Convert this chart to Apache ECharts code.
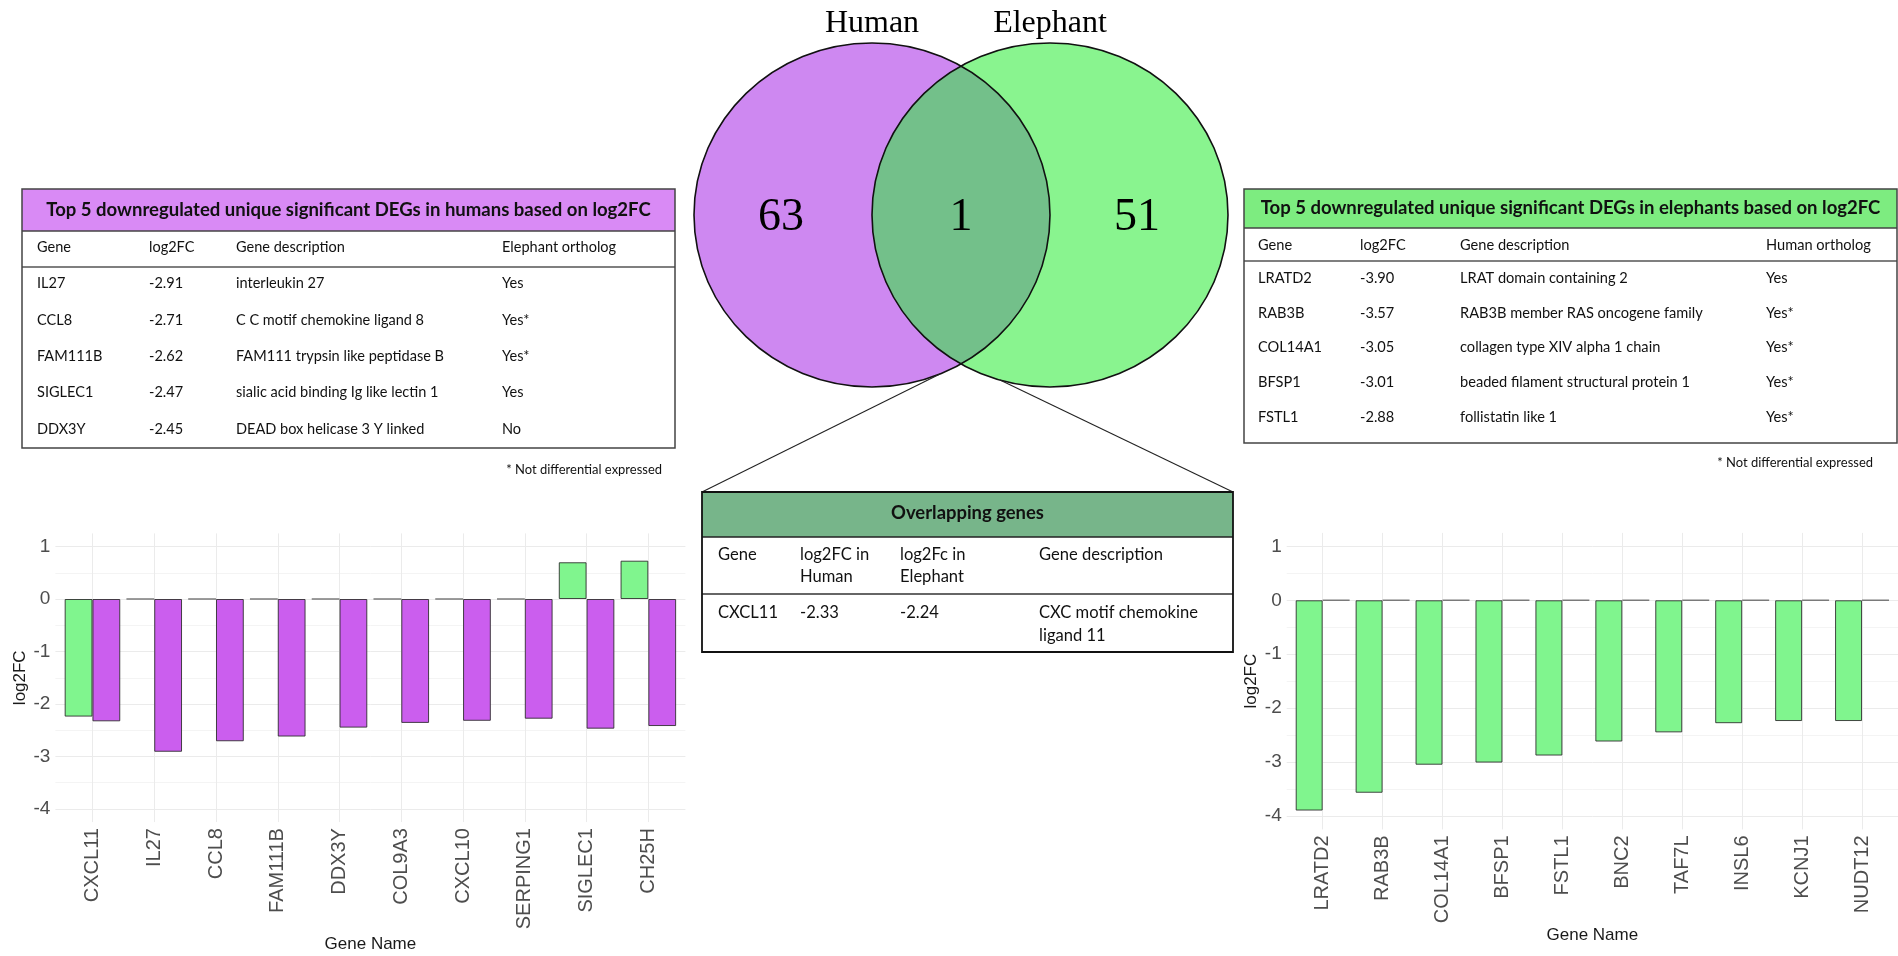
<!DOCTYPE html>
<html>
<head>
<meta charset="utf-8">
<title>DEGs in human and elephant</title>
<script src="https://cdn.jsdelivr.net/npm/echarts@6/dist/echarts.min.js"></script>
<style>
  html, body { margin: 0; padding: 0; background: #ffffff; }
  #main { width: 1898px; height: 956px; }
</style>
</head>
<body>
<div id="main"></div>
<script>
// ---------- data ----------
const humanGenes = ['CXCL11', 'IL27', 'CCL8', 'FAM111B', 'DDX3Y', 'COL9A3', 'CXCL10', 'SERPING1', 'SIGLEC1', 'CH25H'];
const humanGenesElephantFC = [-2.24, 0, 0, 0, 0, 0, 0, 0, 0.70, 0.73];
const humanGenesHumanFC = [-2.33, -2.91, -2.71, -2.62, -2.45, -2.36, -2.32, -2.28, -2.47, -2.42];

const elephantGenes = ['LRATD2', 'RAB3B', 'COL14A1', 'BFSP1', 'FSTL1', 'BNC2', 'TAF7L', 'INSL6', 'KCNJ1', 'NUDT12'];
const elephantGenesElephantFC = [-3.90, -3.57, -3.05, -3.01, -2.88, -2.62, -2.45, -2.28, -2.24, -2.24];
const elephantGenesHumanFC = [0, 0, 0, 0, 0, 0, 0, 0, 0, 0];

const vennSetNames = ['Human', 'Elephant'];
const vennCounts = [63, 1, 51]; // human only, shared, elephant only

const humanTableTitle = 'Top 5 downregulated unique significant DEGs in humans based on log2FC';
const humanTableHeader = ['Gene', 'log2FC', 'Gene description', 'Elephant ortholog'];
const humanTopGenes = ['IL27', 'CCL8', 'FAM111B', 'SIGLEC1', 'DDX3Y'];
const humanTopDesc = ['interleukin 27', 'C C motif chemokine ligand 8', 'FAM111 trypsin like peptidase B',
  'sialic acid binding Ig like lectin 1', 'DEAD box helicase 3 Y linked'];
const humanTopOrtholog = ['Yes', 'Yes*', 'Yes*', 'Yes', 'No'];

const elephantTableTitle = 'Top 5 downregulated unique significant DEGs in elephants based on log2FC';
const elephantTableHeader = ['Gene', 'log2FC', 'Gene description', 'Human ortholog'];
const elephantTopGenes = ['LRATD2', 'RAB3B', 'COL14A1', 'BFSP1', 'FSTL1'];
const elephantTopDesc = ['LRAT domain containing 2', 'RAB3B member RAS oncogene family', 'collagen type XIV alpha 1 chain',
  'beaded filament structural protein 1', 'follistatin like 1'];
const elephantTopOrtholog = ['Yes', 'Yes*', 'Yes*', 'Yes*', 'Yes*'];

const footnoteText = '* Not differential expressed';

const sharedTableTitle = 'Overlapping genes';
const sharedTableHeader = [['Gene'], ['log2FC in', 'Human'], ['log2Fc in', 'Elephant'], ['Gene description']];
const sharedGene = 'CXCL11';
const sharedDesc = ['CXC motif chemokine', 'ligand 11'];

// ---------- styles ----------
const PURPLE_BAR = '#CB5EEE';
const GREEN_BAR = '#80F58E';
const BAR_BORDER = 'rgba(40,40,40,0.85)';
const ZERO_BORDER = 'rgba(110,110,110,0.9)';
const VENN_PURPLE = '#CE88F1';
const VENN_GREEN = '#89F48F';
const VENN_SHARED = '#73C08A';
const HEAD_PURPLE = '#D98AF5';
const HEAD_GREEN = '#7DEC80';
const HEAD_SHARED = '#77B58A';
const TXT = '#111111';
const CHART_FONT = 'Liberation Sans';
const TABLE_FONT = 'Lato';
const SERIF = 'Liberation Serif';
const CLEAR = 'rgba(0,0,0,0)';

// font size so that a string spans a given width
const measureCtx = document.createElement('canvas').getContext('2d');
function fitSize(text, weight, family, width) {
  measureCtx.font = weight + ' 100px "' + family + '"';
  return 100 * width / measureCtx.measureText(text).width;
}
function fcOf(genes, values, gene) {
  return values[genes.indexOf(gene)].toFixed(2);
}

const graphics = [];
let zOrder = 10;
function add(el) { el.z = zOrder++; graphics.push(el); }
function text(x, y, str, size, opts) {
  opts = opts || {};
  add({
    type: 'text', x: x, y: y, silent: true,
    style: {
      text: str, fill: opts.fill || TXT, fontSize: size,
      fontFamily: opts.family || TABLE_FONT, fontWeight: opts.weight || 'normal',
      align: opts.align || 'left', verticalAlign: 'middle'
    }
  });
}
function hline(x1, x2, y, w, c) {
  add({ type: 'line', silent: true, shape: { x1: x1, y1: y, x2: x2, y2: y }, style: { stroke: c, lineWidth: w } });
}

// ---------- Venn diagram ----------
const V = { cxL: 872, cxR: 1050, cy: 215, rx: 178, ry: 172 };
add({ type: 'ellipse', silent: true, shape: { cx: V.cxL, cy: V.cy, rx: V.rx, ry: V.ry }, style: { fill: VENN_PURPLE } });
add({ type: 'ellipse', silent: true, shape: { cx: V.cxR, cy: V.cy, rx: V.rx, ry: V.ry }, style: { fill: VENN_GREEN } });
(function () {
  const xi = (V.cxL + V.cxR) / 2;
  const a = Math.acos((xi - V.cxL) / V.rx);
  const pts = [];
  const n = 80;
  for (let i = 0; i <= n; i++) {
    const t = -a + 2 * a * i / n;
    pts.push([V.cxL + V.rx * Math.cos(t), V.cy + V.ry * Math.sin(t)]);
  }
  for (let i = 0; i <= n; i++) {
    const t = Math.PI - a + 2 * a * i / n;
    pts.push([V.cxR + V.rx * Math.cos(t), V.cy + V.ry * Math.sin(t)]);
  }
  add({ type: 'polygon', silent: true, shape: { points: pts }, style: { fill: VENN_SHARED } });
})();
add({ type: 'ellipse', silent: true, shape: { cx: V.cxL, cy: V.cy, rx: V.rx, ry: V.ry }, style: { fill: null, stroke: '#111', lineWidth: 1.6 } });
add({ type: 'ellipse', silent: true, shape: { cx: V.cxR, cy: V.cy, rx: V.rx, ry: V.ry }, style: { fill: null, stroke: '#111', lineWidth: 1.6 } });
text(V.cxL, 24, vennSetNames[0], 32, { family: SERIF, align: 'center', fill: '#000' });
text(V.cxR, 24, vennSetNames[1], 32, { family: SERIF, align: 'center', fill: '#000' });
text(781, 218, String(vennCounts[0]), 46, { family: SERIF, align: 'center', fill: '#000' });
text((V.cxL + V.cxR) / 2, 218, String(vennCounts[1]), 46, { family: SERIF, align: 'center', fill: '#000' });
text(1137, 218, String(vennCounts[2]), 46, { family: SERIF, align: 'center', fill: '#000' });

// ---------- overlap table + connectors ----------
const S = { x: 702, y: 492, w: 531, h: 160, head: 45, row: 102 };
function ellipseBottomY(cx, x) { return V.cy + V.ry * Math.sqrt(1 - Math.pow((x - cx) / V.rx, 2)); }
add({ type: 'line', silent: true, shape: { x1: 940, y1: ellipseBottomY(V.cxL, 940), x2: S.x, y2: S.y }, style: { stroke: '#222', lineWidth: 1.1 } });
add({ type: 'line', silent: true, shape: { x1: 1000, y1: ellipseBottomY(V.cxR, 1000), x2: S.x + S.w, y2: S.y }, style: { stroke: '#222', lineWidth: 1.1 } });
add({ type: 'rect', silent: true, shape: { x: S.x, y: S.y, width: S.w, height: S.head }, style: { fill: HEAD_SHARED } });
hline(S.x, S.x + S.w, S.y + S.head, 1.5, '#222');
hline(S.x, S.x + S.w, S.y + S.row, 1.5, '#333');
add({ type: 'rect', silent: true, shape: { x: S.x, y: S.y, width: S.w, height: S.h }, style: { fill: null, stroke: '#111', lineWidth: 1.8 } });
(function () {
  const titleSize = fitSize(sharedTableTitle, 'bold', TABLE_FONT, 153);
  text(S.x + S.w / 2, S.y + 21, sharedTableTitle, titleSize, { weight: 'bold', align: 'center' });
  const bodySize = fitSize('Gene description', 'normal', TABLE_FONT, 124);
  const colX = [16, 98, 198, 337];
  sharedTableHeader.forEach(function (lines, c) {
    lines.forEach(function (ln, k) { text(S.x + colX[c], S.y + 63 + 22 * k, ln, bodySize); });
  });
  const row = [sharedGene,
    fcOf(humanGenes, humanGenesHumanFC, sharedGene),
    fcOf(humanGenes, humanGenesElephantFC, sharedGene)];
  row.forEach(function (v, c) { text(S.x + colX[c], S.y + 121, v, bodySize); });
  sharedDesc.forEach(function (ln, k) { text(S.x + colX[3], S.y + 121 + 23 * k, ln, bodySize); });
})();

// ---------- side tables ----------
function sideTable(T) {
  add({ type: 'rect', silent: true, shape: { x: T.x, y: T.y, width: T.w, height: T.head }, style: { fill: T.headFill } });
  hline(T.x, T.x + T.w, T.y + T.head, 1.5, '#444');
  hline(T.x, T.x + T.w, T.y + T.colLine, 1.5, '#555');
  add({ type: 'rect', silent: true, shape: { x: T.x, y: T.y, width: T.w, height: T.h }, style: { fill: null, stroke: '#444', lineWidth: 1.5 } });
  const titleSize = fitSize(T.title, 'bold', TABLE_FONT, T.titleW);
  text(T.x + T.w / 2, T.y + T.head / 2, T.title, titleSize, { weight: 'bold', align: 'center' });
  const bodySize = fitSize('Gene description', 'normal', TABLE_FONT, T.refW);
  T.header.forEach(function (h, c) { text(T.x + T.colX[c], T.headerY, h, bodySize); });
  T.genes.forEach(function (g, r) {
    const y = T.rowY + T.rowStep * r;
    text(T.x + T.colX[0], y, g, bodySize);
    text(T.x + T.colX[1], y, fcOf(T.allGenes, T.allFC, g), bodySize);
    text(T.x + T.colX[2], y, T.desc[r], bodySize);
    text(T.x + T.colX[3], y, T.ortholog[r], bodySize);
  });
  const noteSize = fitSize(footnoteText, 'normal', TABLE_FONT, 156);
  text(T.noteX, T.noteY, footnoteText, noteSize, { align: 'right' });
}
sideTable({
  x: 22, y: 189, w: 653, h: 259, head: 42, colLine: 78, headFill: HEAD_PURPLE,
  title: humanTableTitle, titleW: 605, refW: 109,
  header: humanTableHeader, colX: [15, 127, 214, 480], headerY: 247,
  genes: humanTopGenes, desc: humanTopDesc, ortholog: humanTopOrtholog,
  allGenes: humanGenes, allFC: humanGenesHumanFC,
  rowY: 283.5, rowStep: 36.4, noteX: 662, noteY: 470
});
sideTable({
  x: 1244, y: 189, w: 653, h: 254, head: 39, colLine: 72, headFill: HEAD_GREEN,
  title: elephantTableTitle, titleW: 620, refW: 109.5,
  header: elephantTableHeader, colX: [14, 116, 216, 522], headerY: 245,
  genes: elephantTopGenes, desc: elephantTopDesc, ortholog: elephantTopOrtholog,
  allGenes: elephantGenes, allFC: elephantGenesElephantFC,
  rowY: 278.5, rowStep: 34.6, noteX: 1873, noteY: 463
});

// ---------- bar charts ----------
function geneLabel(names) {
  return function (v) {
    const r = Math.round(v);
    return (Math.abs(v - r) < 1e-6 && r >= 0 && r < names.length) ? names[r] : '';
  };
}
function intLabel(v) {
  const r = Math.round(v);
  return Math.abs(v - r) < 1e-6 ? String(r) : '';
}
function xAxisFor(idx, names, nameGap) {
  return {
    type: 'value', gridIndex: idx, min: -0.6, max: 9.6, interval: 0.2,
    axisLine: { show: false }, axisTick: { show: false },
    splitLine: {
      show: true, showMinLine: true, showMaxLine: true,
      lineStyle: { color: [CLEAR, CLEAR, CLEAR, '#EBEBEB', CLEAR], width: 1 }
    },
    axisLabel: {
      rotate: 90, margin: 6, fontSize: 20, color: '#4D4D4D', fontFamily: CHART_FONT,
      formatter: geneLabel(names), showMinLabel: true, showMaxLabel: true
    },
    name: 'Gene Name', nameLocation: 'middle', nameGap: nameGap,
    nameTextStyle: { fontSize: 17, color: '#1a1a1a', fontFamily: CHART_FONT }
  };
}
function yAxisFor(idx) {
  return {
    type: 'value', gridIndex: idx, min: -4.25, max: 1.25, interval: 0.25,
    axisLine: { show: false }, axisTick: { show: false },
    splitLine: {
      show: true, showMinLine: true, showMaxLine: true,
      lineStyle: { color: [CLEAR, '#EBEBEB', CLEAR, '#F4F4F4'], width: 1 }
    },
    axisLabel: { margin: 5, fontSize: 19, color: '#4D4D4D', fontFamily: CHART_FONT, formatter: intLabel },
    name: 'log2FC', nameLocation: 'middle', nameGap: 27, nameRotate: 90,
    nameTextStyle: { fontSize: 17, color: '#1a1a1a', fontFamily: CHART_FONT }
  };
}
function barSeries(idx, values, color) {
  return {
    type: 'bar', xAxisIndex: idx, yAxisIndex: idx,
    data: values.map(function (v, i) {
      // a zero-height bar shows only its outline, drawn as a soft grey line
      return v === 0
        ? { value: [i, v], itemStyle: { borderColor: ZERO_BORDER, borderWidth: 1.6 } }
        : { value: [i, v] };
    }),
    barWidth: '45%', barGap: '0%',
    itemStyle: { color: color, borderColor: BAR_BORDER, borderWidth: 1 },
    emphasis: { disabled: true }, silent: true
  };
}

const chart = echarts.init(document.getElementById('main'), null, { renderer: 'canvas' });
chart.setOption({
  animation: false,
  backgroundColor: '#ffffff',
  textStyle: { fontFamily: CHART_FONT },
  grid: [
    { left: 55.4, top: 533.4, width: 630, height: 288.7 },
    { left: 1286.7, top: 532.9, width: 615, height: 296.5 }
  ],
  xAxis: [xAxisFor(0, humanGenes, 114), xAxisFor(1, elephantGenes, 97)],
  yAxis: [yAxisFor(0), yAxisFor(1)],
  series: [
    barSeries(0, humanGenesElephantFC, GREEN_BAR),
    barSeries(0, humanGenesHumanFC, PURPLE_BAR),
    barSeries(1, elephantGenesElephantFC, GREEN_BAR),
    barSeries(1, elephantGenesHumanFC, PURPLE_BAR)
  ],
  graphic: { elements: graphics }
});
</script>
</body>
</html>
